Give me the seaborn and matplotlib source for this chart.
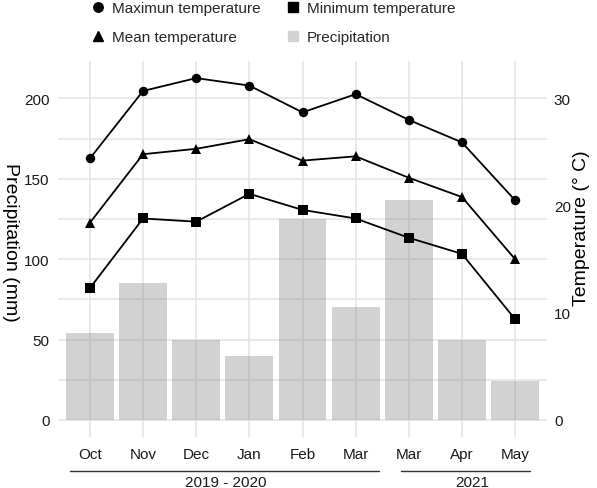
import matplotlib
matplotlib.use("Agg")
import matplotlib.pyplot as plt
import matplotlib.transforms as mtransforms
from matplotlib.lines import Line2D
import numpy as np
import pandas as pd
import seaborn as sns

# ---- data ----
month_keys = ["Oct", "Nov", "Dec", "Jan", "Feb", "Mar", "Mar2021", "Apr", "May"]
month_labels = ["Oct", "Nov", "Dec", "Jan", "Feb", "Mar", "Mar", "Apr", "May"]
precipitation = [54, 85, 50, 39.5, 125, 70, 137, 50, 24]
max_temp = [24.4, 30.7, 31.9, 31.2, 28.7, 30.4, 28.0, 25.9, 20.5]
mean_temp = [18.4, 24.8, 25.3, 26.2, 24.2, 24.6, 22.6, 20.8, 15.0]
min_temp = [12.3, 18.8, 18.5, 21.1, 19.6, 18.8, 17.0, 15.5, 9.4]
period_labels = ["2019 - 2020", "2021"]

df = pd.DataFrame({
    "month": month_keys,
    "idx": np.arange(len(month_keys)),
    "precip": precipitation,
    "tmax": max_temp,
    "tmean": mean_temp,
    "tmin": min_temp,
})

sns.set_theme(style="white")
plt.rcParams["font.family"] = ["Liberation Sans", "DejaVu Sans"]

W, H = 597, 489
fig = plt.figure(figsize=(W / 100, H / 100), dpi=100)
L, R, T, B = 58, 547, 62, 438
ax = fig.add_axes([L / W, 1 - B / H, (R - L) / W, (B - T) / H])

grid_c = "#e3e3e3"
tick_fs = 11
# precipitation bars
sns.barplot(data=df, x="month", y="precip", order=month_keys, ax=ax,
            color="#808080", alpha=0.35, width=0.9, saturation=1,
            edgecolor="none", linewidth=0, zorder=2)

ylo, yhi = -10.6, 223.3
ax.set_ylim(ylo, yhi)
ax.set_xlim(-0.6, len(month_keys) - 0.4)
ax.set_yticks([0, 50, 100, 150, 200])
ax.set_yticks([25, 75, 125, 175], minor=True)
ax.set_xticks(range(len(month_keys)))
ax.set_xticklabels(month_labels)
ax.grid(True, which="major", color=grid_c, linewidth=1.1, zorder=0)
ax.grid(True, which="minor", axis="y", color=grid_c, linewidth=1.1, zorder=0)
ax.set_axisbelow(True)
for s in ax.spines.values():
    s.set_visible(False)
ax.tick_params(axis="both", which="both", length=0, labelsize=tick_fs,
               labelcolor="#1a1a1a")
ax.tick_params(axis="x", pad=7)
ax.tick_params(axis="y", pad=6)
ax.set_xlabel("")
ax.set_ylabel("")

# temperatures on the secondary axis
ax2 = ax.twinx()
ax2.set_position(ax.get_position())
f = 3 / 20
ax2.set_ylim(ylo * f, yhi * f)
ax2.set_yticks([0, 10, 20, 30])
for s in ax2.spines.values():
    s.set_visible(False)
ax2.grid(False)
ax2.tick_params(axis="y", length=0, labelsize=tick_fs, labelcolor="#1a1a1a", pad=5)

for col, mk, ms in [("tmax", "o", 6.8), ("tmean", "^", 7.8), ("tmin", "s", 6.5)]:
    sns.lineplot(data=df, x="idx", y=col, ax=ax2, color="black", linewidth=1.3,
                 marker=mk, markersize=ms, markeredgewidth=0, zorder=3)
ax2.set_xlim(-0.6, len(month_keys) - 0.4)
ax2.set_ylabel("")
ax2.set_xlabel("")

# axis titles
fig.text(10 / W, 1 - 242 / H, "Precipitation (mm)", rotation=270, fontsize=14,
         ha="center", va="center", color="black")
fig.text(581 / W, 1 - 228 / H, "Temperature (° C)", rotation=90, fontsize=14,
         ha="center", va="center", color="black")

# period brackets under the x axis
tr = mtransforms.blended_transform_factory(ax.transData, fig.transFigure)
ly = 1 - 472 / H
ty = 1 - 483 / H
for (x0, x1, xc), lab in zip([(-0.377, 5.43, 2.55), (5.85, 8.28, 7.2)], period_labels):
    fig.add_artist(Line2D([x0, x1], [ly, ly], transform=tr, color="#333333", linewidth=1))
    fig.text(xc, ty, lab, transform=tr, ha="center", va="center", fontsize=tick_fs,
             color="#1a1a1a")

# legend
handles = [
    Line2D([], [], linestyle="none", marker="o", color="black", markersize=6.8),
    Line2D([], [], linestyle="none", marker="^", color="black", markersize=7.8),
    Line2D([], [], linestyle="none", marker="s", color="black", markersize=6.5),
    Line2D([], [], linestyle="none", marker="s", color="#d2d2d2", markersize=7.5),
]
labels = ["Maximun temperature", "Mean temperature", "Minimum temperature", "Precipitation"]
fig.legend(handles, labels, ncol=2, frameon=False, fontsize=11,
           loc="upper left", bbox_to_anchor=(84 / W, 1 + 4 / H),
           handlelength=1.0, handletextpad=0.42, columnspacing=1.6,
           labelspacing=1.0, borderaxespad=0)

fig.savefig("out.png", dpi=100)
